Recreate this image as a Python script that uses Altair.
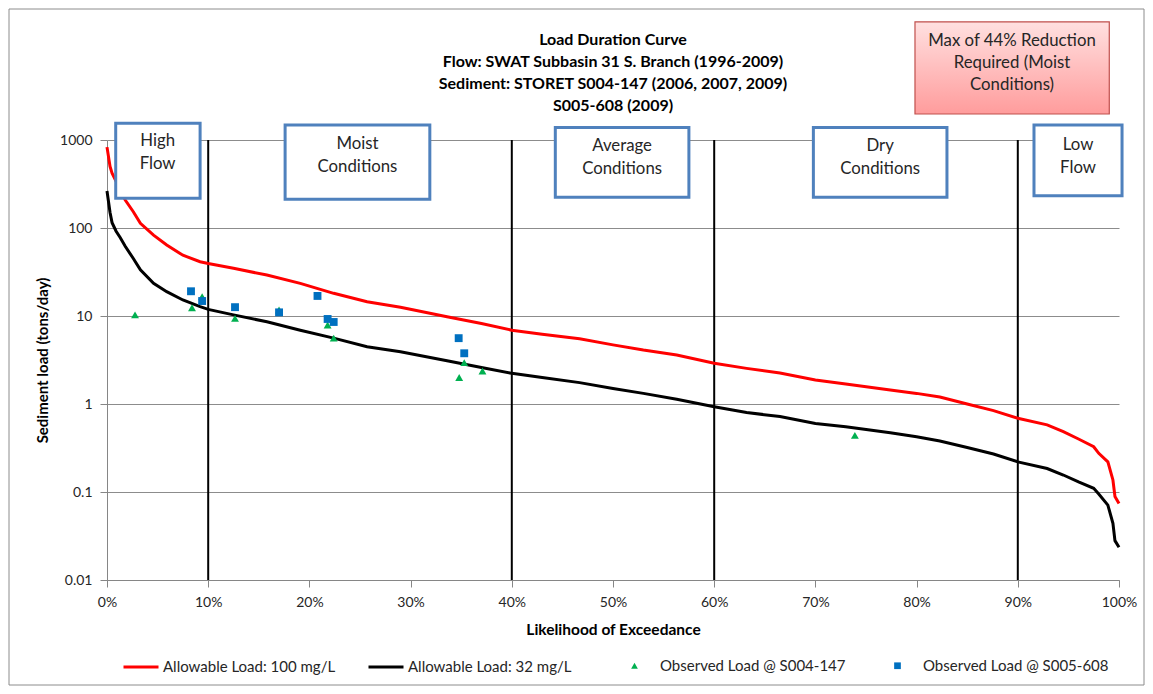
import altair as alt
import pandas as pd

FONT = "Lato"

# ---- flow-duration based allowable load curves (x = % exceedance, y = tons/day)
pct = [0, 0.3, 0.5, 0.9, 1.3, 1.8, 2.6, 3.3, 4.6, 5.9, 7.5, 9.2, 10, 12.5, 15.8,
       19.1, 22.4, 25.7, 29, 33.6, 37, 40, 43, 46.7, 50, 53, 56.3, 60, 63.2, 66.5,
       70, 73, 77.4, 80, 82.3, 85, 87.6, 90, 92.9, 94.5, 96, 97.5, 98, 98.9, 99.4,
       99.6, 100]
load_100 = [830, 500, 420, 340, 265, 208, 153, 113, 83, 64, 49, 41.4, 39.5, 34.8, 29.2,
            23.5, 18.1, 14.5, 12.6, 9.8, 8.2, 6.9, 6.2, 5.5, 4.7, 4.1, 3.6, 2.9, 2.54, 2.25,
            1.87, 1.69, 1.44, 1.32, 1.2, 1.0, 0.84, 0.69, 0.58, 0.485, 0.40, 0.327, 0.275,
            0.22, 0.137, 0.089, 0.074]
load_32 = [263, 150, 115, 92, 78, 62, 45, 33.4, 23.5, 18.9, 15.2, 12.8, 11.9, 10.3, 8.6,
           6.9, 5.6, 4.48, 3.93, 3.1, 2.6, 2.23, 2.0, 1.75, 1.5, 1.32, 1.13, 0.93, 0.80, 0.72,
           0.60, 0.55, 0.47, 0.425, 0.38, 0.32, 0.27, 0.22, 0.185, 0.156, 0.13, 0.11, 0.095,
           0.071, 0.044, 0.028, 0.0235]

series_names = ["Allowable Load: 100 mg/L", "Allowable Load: 32 mg/L"]
series_colors = ["#ff0000", "#000000"]

# ---- observed loads
s004_pct = [2.77, 8.4, 9.4, 12.65, 17.0, 21.8, 22.4, 34.8, 35.3, 37.1, 73.9]
s004_load = [10.3, 12.4, 16.6, 9.4, 11.7, 7.9, 5.6, 2.0, 2.95, 2.37, 0.44]
s005_pct = [8.3, 9.4, 12.65, 17.0, 20.8, 21.8, 22.4, 34.75, 35.3]
s005_load = [19.1, 14.8, 12.6, 11.0, 16.9, 9.25, 8.55, 5.6, 3.77]

station_names = ["Observed Load @ S004-147", "Observed Load @ S005-608"]
station_colors = ["#00b050", "#0070c0"]
station_shapes = ["triangle-up", "square"]

# ---- flow zone boundaries and labels
zone_bounds = [10, 40, 60, 90]
zone_labels = ["High\nFlow", "Moist\nConditions", "Average\nConditions",
               "Dry\nConditions", "Low\nFlow"]
zone_x1 = [0.86, 17.6, 44.3, 69.8, 91.6]
zone_x2 = [9.2, 31.9, 57.5, 83.0, 100.3]
zone_top = [1550, 1480, 1390, 1390, 1480]
zone_bottom = [218, 212, 223, 223, 233]
zone_tx = [5.0, 24.75, 50.9, 76.4, 95.95]
zone_ty = [975, 893, 861, 855, 877]

note_text = ["Max of 44% Reduction\nRequired (Moist\nConditions)"]

title_lines = ["Load Duration Curve",
               "Flow: SWAT Subbasin 31 S. Branch (1996-2009)",
               "Sediment: STORET S004-147 (2006, 2007, 2009)",
               "S005-608 (2009)"]

# ---------------------------------------------------------------- tables
n = len(pct)
lines_df = pd.DataFrame({
    "pct": pct + pct,
    "load": load_100 + load_32,
    "series": [series_names[0]] * n + [series_names[1]] * n,
})
obs_df = pd.DataFrame({
    "pct": s004_pct + s005_pct,
    "load": s004_load + s005_load,
    "station": [station_names[0]] * len(s004_pct) + [station_names[1]] * len(s005_pct),
})
bounds_df = pd.DataFrame({"pct": zone_bounds, "lo": [0.01] * 4, "hi": [1000] * 4})
zones_df = pd.DataFrame({"label": zone_labels, "x1": zone_x1, "x2": zone_x2,
                         "top": zone_top, "bottom": zone_bottom,
                         "tx": zone_tx, "ty": zone_ty})
note_df = pd.DataFrame({"label": note_text, "x1": [79.84], "x2": [99.04],
                        "top": [22000], "bottom": [1975], "tx": [89.43], "ty": [13440]})

# ---------------------------------------------------------------- scales / axes
x_scale = alt.Scale(domain=[0, 100], nice=False, zero=False)
y_scale = alt.Scale(type="log", domain=[0.01, 1000], nice=False)

x_axis = alt.Axis(values=list(range(0, 101, 10)), labelExpr="datum.value + '%'",
                  grid=False, tickSize=7, tickColor="#868686", domainColor="#868686",
                  labelFont=FONT, labelFontSize=14, labelColor="#262626", labelPadding=8,
                  labelFlush=False,
                  title="Likelihood of Exceedance", titleFont=FONT, titleFontSize=15.5,
                  titleFontWeight="bold", titleColor="#000000", titleX=506, titleY=49,
                  titleBaseline="middle", titleAlign="center")
y_axis = alt.Axis(values=[0.01, 0.1, 1, 10, 100, 1000], format="~g",
                  grid=True, gridColor="#8c8c8c", gridWidth=1,
                  tickSize=7, tickColor="#868686", domainColor="#868686",
                  labelFont=FONT, labelFontSize=14, labelColor="#262626", labelPadding=8,
                  labelFlush=False,
                  title="Sediment load (tons/day)", titleFont=FONT, titleFontSize=15,
                  titleFontWeight="bold", titleColor="#000000", titleAngle=270,
                  titleX=-65, titleY=220, titleBaseline="middle", titleAlign="center")


def X(field):
    return alt.X(f"{field}:Q", scale=x_scale, axis=x_axis)


def Y(field):
    return alt.Y(f"{field}:Q", scale=y_scale, axis=y_axis)


# ---------------------------------------------------------------- layers
border = alt.Chart(pd.DataFrame({"a": [0]})).mark_rect(
    filled=False, stroke="#8c8c8c", strokeWidth=1
).encode(x=alt.value(-98), x2=alt.value(1037), y=alt.value(-131), y2=alt.value(545))

rules = alt.Chart(bounds_df).mark_rule(color="black", strokeWidth=2).encode(
    x=X("pct"), y=Y("lo"), y2="hi")

lines = alt.Chart(lines_df).mark_line(strokeWidth=3).encode(
    x=X("pct"), y=Y("load"),
    stroke=alt.Stroke("series:N", title=None,
                      scale=alt.Scale(domain=series_names, range=series_colors),
                      legend=alt.Legend(orient="none", legendX=15, legendY=508,
                                        direction="horizontal", symbolType="stroke",
                                        symbolSize=1225, symbolStrokeWidth=3,
                                        labelFont=FONT, labelFontSize=15,
                                        labelColor="#262626", labelOffset=3,
                                        labelLimit=400, columnPadding=26, padding=0)))

pt_legend = alt.Legend(orient="none", legendX=520, legendY=518, direction="horizontal",
                       symbolSize=45, labelFont=FONT, labelFontSize=15,
                       labelColor="#262626", labelOffset=18, labelLimit=400,
                       columnPadding=44, padding=0)
points = alt.Chart(obs_df).mark_point(filled=True, size=62, opacity=1).encode(
    x=X("pct"), y=Y("load"),
    fill=alt.Fill("station:N", title=None,
                  scale=alt.Scale(domain=station_names, range=station_colors),
                  legend=pt_legend),
    shape=alt.Shape("station:N", title=None,
                    scale=alt.Scale(domain=station_names, range=station_shapes),
                    legend=pt_legend))

boxes = alt.Chart(zones_df).mark_rect(fill="white", stroke="#4f81bd", strokeWidth=3).encode(
    x=X("x1"), x2="x2", y=Y("top"), y2="bottom")
box_text = alt.Chart(zones_df).mark_text(font=FONT, fontSize=16.8, lineBreak="\n",
                                         lineHeight=23, color="#262626",
                                         baseline="middle").encode(
    x=X("tx"), y=Y("ty"), text="label:N")

grad = alt.LinearGradient(gradient="linear",
                          stops=[alt.GradientStop(color="#ffe0e0", offset=0),
                                 alt.GradientStop(color="#ff9c9c", offset=1)],
                          x1=0, x2=0, y1=0, y2=1)
note_box = alt.Chart(note_df).mark_rect(fill=grad, stroke="#c0504d", strokeWidth=1.2).encode(
    x=X("x1"), x2="x2", y=Y("top"), y2="bottom")
note_txt = alt.Chart(note_df).mark_text(font=FONT, fontSize=16.8, lineBreak="\n",
                                        lineHeight=22.3, color="#262626",
                                        baseline="middle").encode(
    x=X("tx"), y=Y("ty"), text="label:N")

chart = alt.layer(border, rules, lines, points, boxes, box_text, note_box, note_txt).properties(
    width=1012, height=440,
    autosize=alt.AutoSizeParams(type="none"),
    padding={"left": 99, "top": 132, "right": 26, "bottom": 106},
    title=alt.TitleParams(text=title_lines, font=FONT, fontSize=16, fontWeight="bold",
                          lineHeight=22, anchor="middle", frame="group", offset=-105,
                          color="#000000"),
).configure_view(strokeWidth=0)

chart.save("out.html", embed_options={"renderer": "svg", "actions": False})
